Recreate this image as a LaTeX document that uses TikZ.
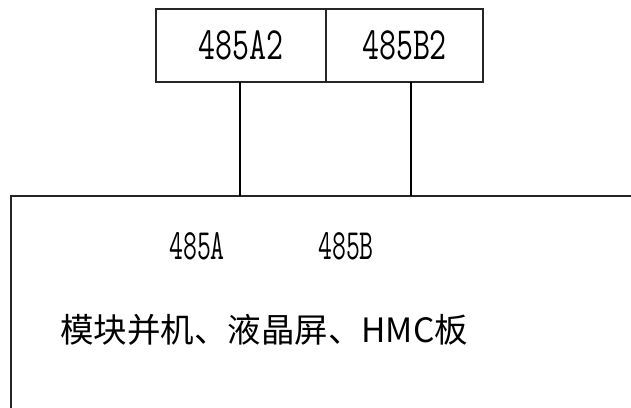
\documentclass[tikz,border=0pt]{standalone}
\usepackage{fontspec}
\newfontfamily\cjk{Noto Sans CJK SC}
\begin{document}
\begin{tikzpicture}[x=1pt,y=-1pt,
  cell/.style={draw=black!85, line width=1.3pt, minimum height=73pt, inner sep=0pt, outer sep=0pt,
    font=\ttfamily\fontsize{33}{33}\selectfont},
  bigbox/.style={draw=black!85, line width=1.3pt, inner sep=0pt, outer sep=0pt},
  lbl/.style={inner sep=0pt, font=\ttfamily\fontsize{27}{27}\selectfont},
  wire/.style={draw=black, line width=1.2pt}]
\useasboundingbox (0,0) rectangle (631,407);
\clip (0,0) rectangle (631,407);
\fill[white] (0,0) rectangle (631,407);
\node[cell, minimum width=170pt] (cA) at (241,45.5) {\scalebox{1}[1.4]{485A2}};
\node[cell, minimum width=157pt] (cB) at (404.5,45.5) {\scalebox{1}[1.4]{485B2}};
\node[bigbox, minimum width=700pt, minimum height=320pt] (big) at (361,356) {};
\coordinate (ta) at (240,196);
\coordinate (tb) at (411,196);
\draw[wire] (ta |- cA.south) -- (ta);
\draw[wire] (tb |- cB.south) -- (tb);
\node[lbl] (la) at (197,246) {\scalebox{1}[1.6]{485A}};
\node[lbl] (lb) at (346,246) {\scalebox{1}[1.6]{485B}};
\node[inner sep=0pt, font=\cjk\fontsize{33.5}{34}\selectfont] (main) at (264,330) {模块并机、液晶屏、HMC板};
\end{tikzpicture}
\end{document}
